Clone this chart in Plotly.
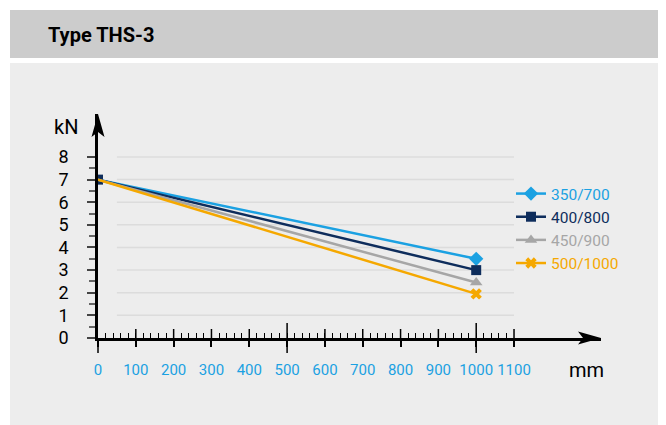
import plotly.graph_objects as go

# ---- data ----
x_mm = [0, 1000]
series_names = ["350/700", "400/800", "450/900", "500/1000"]
series_values = {
    "350/700": [7.0, 3.5],
    "400/800": [7.0, 3.0],
    "450/900": [7.0, 2.45],
    "500/1000": [7.0, 1.95],
}
x_tick_vals = list(range(0, 1101, 100))
x_tick_text = [str(v) for v in x_tick_vals]
y_tick_vals = list(range(0, 9))
y_tick_text = [str(v) for v in y_tick_vals]

# ---- style ----
colors = {"350/700": "#1ba1e2", "400/800": "#0e2d5c", "450/900": "#a6a6a6", "500/1000": "#f5a800"}
symbols = {"350/700": "diamond", "400/800": "square", "450/900": "triangle-up", "500/1000": "x"}
sizes = {"350/700": 11, "400/800": 10, "450/900": 11, "500/1000": 10}
FONT = "Roboto, sans-serif"

OFF = 8                      # page offset of the figure (body margin)
W, H = 666 - OFF, 425 - OFF
L, B = 98, 338               # page pixel position of the origin
XMAX, YMAX = 1330, 9.9
RIGHT, TOP = 601, 114        # page pixel of plot-area right / top
w, h = RIGHT - L, B - TOP

def px(xp):
    return (xp - L) / w

def py(yp):
    return (B - yp) / h

def f(size, color="black"):
    return dict(family=FONT, size=size, color=color)

fig = go.Figure()
for name in series_names:
    vals = series_values[name]
    # end point first so the legend picks the visible marker colour
    xs = x_mm[::-1]
    ys = vals[::-1]
    mcol = [colors[name], colors[name] if name == "400/800" else "rgba(0,0,0,0)"]
    fig.add_trace(go.Scatter(
        x=xs, y=ys, mode="lines+markers",
        name=f"<span style='color:{colors[name]}'>{name}</span>",
        line=dict(color=colors[name], width=2.5),
        marker=dict(symbol=symbols[name], size=sizes[name], color=mcol, line=dict(width=0)),
    ))

shapes = []
# background panels
shapes.append(dict(type="rect", xref="paper", yref="paper", x0=px(10), x1=px(670), y0=py(58), y1=py(10),
                   fillcolor="#cccccc", line=dict(width=0), layer="below"))
shapes.append(dict(type="rect", xref="paper", yref="paper", x0=px(10), x1=px(670), y0=py(430), y1=py(63),
                   fillcolor="#ededed", line=dict(width=0), layer="below"))
# gridlines
for v in y_tick_vals[1:]:
    shapes.append(dict(type="line", xref="x", yref="y", x0=50, x1=1100, y0=v, y1=v,
                       line=dict(color="#dcdcdc", width=1.5), layer="below"))
# upward part of major x ticks
for v in x_tick_vals[1:]:
    if v in (500, 1000):
        y0, y1 = -15 / h, 15 / h
    else:
        y0, y1 = 0, 9 / h
    shapes.append(dict(type="line", xref="x", yref="paper", x0=v, x1=v, y0=y0, y1=y1,
                       line=dict(color="black", width=1.5)))
shapes.append(dict(type="line", xref="paper", yref="paper", x0=0, x1=0, y0=-15 / h, y1=0,
                   line=dict(color="black", width=1.5)))
# arrowheads
ax_len, ax_half, notch = 23, 6.5, 18
shapes.append(dict(type="path", xref="paper", yref="paper",
                   path=f"M 1 0 L {1 - ax_len / w} {ax_half / h} L {1 - notch / w} 0 L {1 - ax_len / w} {-ax_half / h} Z",
                   fillcolor="black", line=dict(width=0)))
shapes.append(dict(type="path", xref="paper", yref="paper",
                   path=f"M 0 1 L {ax_half / w} {1 - ax_len / h} L 0 {1 - notch / h} L {-ax_half / w} {1 - ax_len / h} Z",
                   fillcolor="black", line=dict(width=0)))

annotations = [
    dict(text="<b>Type THS-3</b>", xref="paper", yref="paper", x=px(46), y=py(35),
         xanchor="left", yanchor="middle", showarrow=False, font=f(20)),
    dict(text="kN", xref="paper", yref="paper", x=px(66), y=py(127),
         xanchor="center", yanchor="middle", showarrow=False, font=f(20)),
    dict(text="mm", xref="paper", yref="paper", x=px(586), y=py(370),
         xanchor="center", yanchor="middle", showarrow=False, font=f(20)),
]

fig.update_layout(
    width=W, height=H,
    margin=dict(l=L - OFF, r=W - (RIGHT - OFF), t=TOP - OFF, b=H - (B - OFF), pad=0),
    paper_bgcolor="white", plot_bgcolor="rgba(0,0,0,0)",
    font=f(16),
    showlegend=True,
    legend=dict(x=px(511), y=py(177), xanchor="left", yanchor="top", bgcolor="rgba(0,0,0,0)",
                font=f(15.5), tracegroupgap=0),
    shapes=shapes, annotations=annotations,
    xaxis=dict(range=[0, XMAX], showgrid=False, zeroline=False, showline=True, linecolor="black", linewidth=2.5,
               tickmode="array", tickvals=x_tick_vals, ticktext=x_tick_text, ticks="outside", ticklen=6,
               tickwidth=1.5, tickcolor="black", tickfont=f(15, "#1ba1e2"),
               ticklabelstandoff=10, tickangle=0,
               minor=dict(tickmode="array", tickvals=list(range(20, 1100, 20)), ticks="inside", ticklen=5,
                          tickwidth=1.2, tickcolor="black", showgrid=False),
               fixedrange=True),
    yaxis=dict(range=[0, YMAX], showgrid=False, zeroline=False, showline=True, linecolor="black", linewidth=2.5,
               tickmode="array", tickvals=y_tick_vals, ticktext=y_tick_text, ticks="outside", ticklen=8,
               tickwidth=1.5, tickcolor="#444", tickfont=f(18),
               ticklabelstandoff=15,
               minor=dict(tickmode="array", tickvals=[v + 0.5 for v in y_tick_vals[:-1]], ticks="outside",
                          ticklen=6, tickwidth=1.5, tickcolor="#666", showgrid=False),
               fixedrange=True),
)

fig.write_html("out.html")
